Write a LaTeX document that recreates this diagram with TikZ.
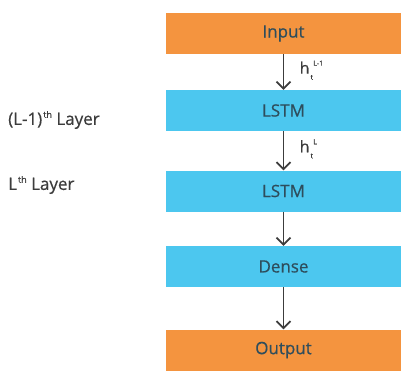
\documentclass[tikz,border=0pt]{standalone}
\usepackage{fontspec}
\setmainfont{Open Sans}
\newfontfamily\diagfont{Open Sans}[FakeBold=0.5]
\usetikzlibrary{arrows.meta}
\definecolor{boxorange}{HTML}{F4943F}
\definecolor{boxblue}{HTML}{4CC7EF}
\definecolor{boxtext}{HTML}{2E4D5C}
\definecolor{linegrey}{HTML}{3C3C3C}
\tikzset{
  layerbox/.style={minimum width=235pt, minimum height=41pt, inner sep=0pt,
    text=boxtext, font=\diagfont\fontsize{17}{19}\selectfont},
  iobox/.style={layerbox, fill=boxorange},
  nnbox/.style={layerbox, fill=boxblue},
  flow/.style={draw=linegrey, line width=1.8pt, -{Straight Barb[length=7pt,width=14pt]}},
  sidelabel/.style={anchor=west, inner sep=0pt, text=linegrey, font=\diagfont\fontsize{17}{19}\selectfont},
  hlabel/.style={pos=0.45, right=12pt, text=linegrey, font=\diagfont\fontsize{16}{18}\selectfont},
}
\newcommand{\hstate}[1]{h\kern1pt\raisebox{-6pt}{\fontsize{7}{8}\selectfont t}\kern0.3pt\raisebox{8pt}{\fontsize{7}{8}\selectfont #1}}
\newcommand{\thsup}{\kern1pt\raisebox{7pt}{\fontsize{9}{10}\selectfont th}}
\begin{document}
\begin{tikzpicture}[x=1pt, y=-1pt]
\useasboundingbox (0,0) rectangle (401,370);
%
\path (283.5, 33.5) node[iobox] (input) {Input};
\path (283.5,110.5) node[nnbox] (lstmA) {LSTM};
\path (283.5,191)   node[nnbox] (lstmB) {LSTM};
\path (283.5,266.5) node[nnbox] (dense) {Dense};
\path (283.5,350)   node[iobox] (output) {Output};
%
\path (8,120) node[sidelabel] (layerA) {(L-1)\thsup\ Layer};
\path (8,185) node[sidelabel] (layerB) {L\thsup\ Layer};
%
\draw [flow] (input) -- (lstmA) node[hlabel]{\hstate{L-1}};
\draw [flow] (lstmA) -- (lstmB) node[hlabel]{\hstate{L}};
\draw [flow] (lstmB) -- (dense);
\draw [flow] (dense) -- (output);
\end{tikzpicture}
\end{document}
